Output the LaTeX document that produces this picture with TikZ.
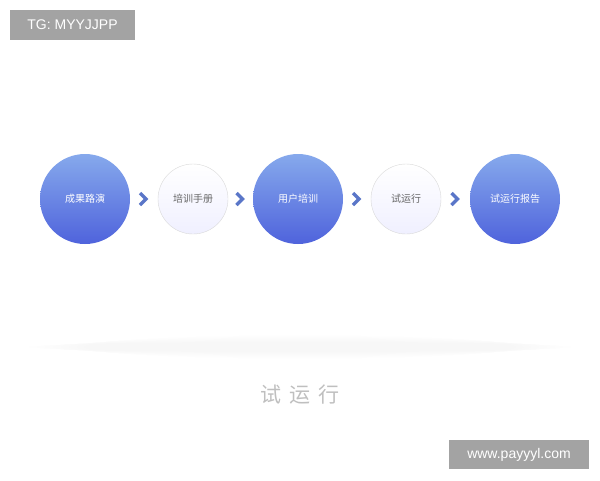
\documentclass[tikz,border=0pt]{standalone}
\usepackage{fontspec}
\setmainfont{Liberation Sans}
\newfontfamily\cjk{Noto Sans CJK SC}
\usetikzlibrary{positioning, calc}
\definecolor{bluetop}{HTML}{86A9EC}
\definecolor{bluebot}{HTML}{4F63DC}
\definecolor{chev}{HTML}{5A76C8}
\definecolor{tagbox}{HTML}{A3A3A3}
\tikzset{
  bigstep/.style={circle, minimum size=90pt, inner sep=0pt, top color=bluetop, bottom color=bluebot,
    text=white, font=\cjk\fontsize{10}{12}\selectfont},
  smallstep/.style={circle, minimum size=70pt, inner sep=0pt, draw=gray!30, top color=white, bottom color=blue!6,
    text=black!60, font=\cjk\fontsize{10}{12}\selectfont},
  chevron/.style={draw=chev, line width=3.5pt, line join=miter},
  tag/.style={fill=tagbox, text=white, font=\fontsize{14}{16}\selectfont, inner sep=0pt}
}
\begin{document}
\begin{tikzpicture}[x=1pt,y=-1pt]
  \useasboundingbox (0,0) rectangle (600,480);
  % steps
  \node[bigstep] (roadshow) at (85,199) {成果路演};
  \node[smallstep] (manual) at (193,199) {培训手册};
  \node[bigstep] (training) at (298,199) {用户培训};
  \node[smallstep] (trial) at (406,199) {试运行};
  \node[bigstep] (report) at (515,199) {试运行报告};
  % arrows between steps
  \foreach \a/\b in {roadshow/manual, manual/training, training/trial, trial/report} {
    \coordinate (m) at ($(\a.east)!0.5!(\b.west)$);
    \draw[chevron] ([xshift=-4pt,yshift=-6pt]m) -- ([xshift=2pt]m) -- ([xshift=-4pt,yshift=6pt]m);
  }
  % shadow band
  \foreach \i in {1,...,8}
    \fill[black, opacity=0.002] (300,347) ellipse ({280-8*\i} and {4+\i});
  \node[text=black!25, font=\cjk\fontsize{21}{24}\selectfont] (title) at (300,395) {试\hspace{8pt}运\hspace{8pt}行};
  % watermarks
  \node[tag, minimum width=125pt, minimum height=30pt] (tg) at (72.5,25) {TG: MYYJJPP};
  \node[tag, minimum width=140pt, minimum height=29pt] (site) at (519,454.5) {www.payyyl.com};
\end{tikzpicture}
\end{document}
